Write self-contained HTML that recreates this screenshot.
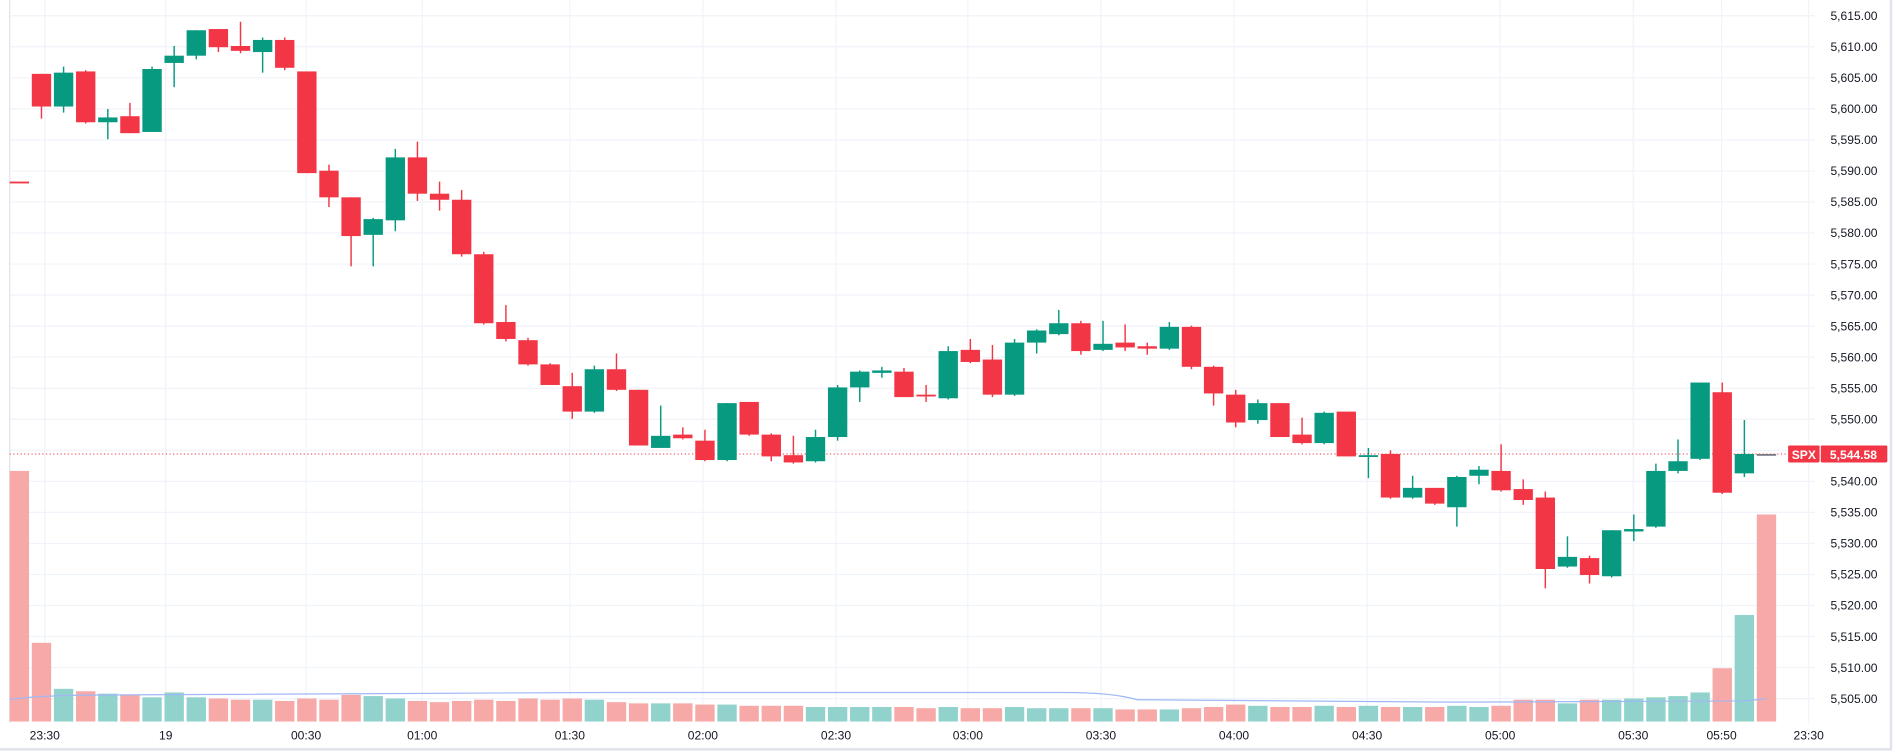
<!DOCTYPE html>
<html><head><meta charset="utf-8"><style>
html,body{margin:0;padding:0;background:#fff;}
svg{display:block;}
text{font-family:"Liberation Sans",sans-serif;font-size:10px;fill:#131722;}
</style></head><body>
<svg id="c" width="1897" height="753" viewBox="0 0 1568 622" preserveAspectRatio="none" xmlns="http://www.w3.org/2000/svg"></svg>
<script>
var C=[
[0,150,150,150,150],[0,61,88,61,98],[1,60,88,55,93],[0,59,101,58,102],[1,97,101,90,115],[0,96,110,85,110],[1,57,109,55,109],[1,46,52,38,72],[1,25,46,25,49],[0,24,39,24,43],
[0,38,42,18,44],[1,33,43,31,60],[0,33,56,31,58],[0,59,143,59,143],[0,141,163,136,171],[0,163,195,163,220],[1,181,194,180,220],[1,130,182,123,191],[0,130,160,117,166],[0,160,165,150,174],
[0,165,210,157,212],[0,210,267,208,268],[0,266,280,252,282],[0,281,301,279,302],[0,301,318,300,318],[0,319,340,308,346],[1,305,340,302,341],[0,305,322,292,323],[0,322,368,322,368],[1,360,370,335,370],
[0,359,362,353,363],[0,364,380,355,381],[1,333,380,333,381],[0,332,359,332,360],[0,359,377,358,381],[0,376,382,360,383],[1,361,381,355,382],[1,320,361,318,364],[1,307,320,306,332],[1,306,308,303,312],
[0,307,328,304,328],[0,326,327,318,332],[1,290,329,286,330],[0,289,299,280,300],[0,297,326,285,328],[1,283,326,280,327],[1,273,283,272,292],[1,267,276,256,277],[0,267,290,265,293],[1,284,289,265,290],
[0,283,287,268,290],[0,286,288,283,293],[1,270,288,266,289],[0,270,303,269,305],[0,303,325,302,335],[0,326,349,322,353],[1,333,347,330,350],[0,333,361,333,361],[0,359,366,345,367],[1,341,366,340,367],
[0,340,377,340,377],[1,376,377,370,395],[0,375,411,372,412],[1,403,411,393,412],[0,403,416,403,417],[1,394,419,393,435],[1,388,393,385,400],[0,389,405,367,406],[0,404,413,396,417],[0,411,470,406,486],
[1,460,468,443,469],[0,461,475,459,482],[1,438,476,438,477],[1,437,439,425,447],[1,389,435,383,436],[1,381,389,363,391],[1,316,379,316,380],[0,324,407,316,408],[1,375,391,347,394],[2,375,375,375,375]];
var V=[389,531,569,571,573,574,576,572,576,577,578,578,579,577,578,574,575,577,579,580,579,578,579,577,578,577,578,580,581,581,581,582,582,583,583,583,584,584,584,584,584,585,584,585,585,584,585,585,585,585,586,586,586,585,584,582,583,584,584,583,584,583,584,584,584,583,584,583,578,578,581,578,578,577,576,575,572,552,508,425];
var s='';
// grid
for(var k=0;k<=22;k++){var y=13+k*25.64;s+='<line x1="8" x2="1500" y1="'+y+'" y2="'+y+'" stroke="#f0f3fa"/>';}
var T=[[37,'23:30'],[137,'19'],[253,'00:30'],[349,'01:00'],[471,'01:30'],[581,'02:00'],[691,'02:30'],[800,'03:00'],[910,'03:30'],[1020,'04:00'],[1130,'04:30'],[1240,'05:00'],[1350,'05:30'],[1423,'05:50'],[1495,'23:30']];
T.forEach(function(t){s+='<line x1="'+t[0]+'" x2="'+t[0]+'" y1="0" y2="597" stroke="#f0f3fa"/>';s+='<text x="'+t[0]+'" y="611" text-anchor="middle">'+t[1]+'</text>';});
s+='<line x1="8" x2="8" y1="0" y2="597" stroke="#e0e3eb"/>';
s+='<line x1="0" x2="1563" y1="619" y2="619" stroke="#e0e3eb" stroke-width="2"/>';
s+='<line x1="1563" x2="1563" y1="0" y2="620" stroke="#e0e3eb" stroke-width="2"/>';
// volumes
var sp=18.28;
for(var i=0;i<80;i++){var cx=16+sp*i;var col=C[i][0]==1?'#92d2cc':'#f7a9a7';s+='<rect x="'+(cx-8)+'" y="'+V[i]+'" width="16" height="'+(596-V[i])+'" fill="'+col+'"/>';}
s+='<path d="M8 578 Q30 574 100 574 L500 572 L880 572 Q920 572 940 578 L1200 580 L1440 579 Q1455 578 1460 577" fill="none" stroke="#9fb8f5" stroke-width="1"/>';
// price line
s+='<line x1="8" x2="1478" y1="375" y2="375" stroke="#f23645" stroke-dasharray="1,2" stroke-width="0.8"/>';
// candles
for(var i=0;i<80;i++){var c=C[i],cx=16+sp*i,col=c[0]==1?'#089981':c[0]==0?'#f23645':'#787b86';
 s+='<line x1="'+cx+'" x2="'+cx+'" y1="'+c[3]+'" y2="'+c[4]+'" stroke="'+col+'" stroke-width="1.2"/>';
 var h=Math.max(c[2]-c[1],1.5);s+='<rect x="'+(cx-8)+'" y="'+c[1]+'" width="16" height="'+h+'" fill="'+col+'"/>';}
// price labels
var P=['5,615.00','5,610.00','5,605.00','5,600.00','5,595.00','5,590.00','5,585.00','5,580.00','5,575.00','5,570.00','5,565.00','5,560.00','5,555.00','5,550.00','5,545.00','5,540.00','5,535.00','5,530.00','5,525.00','5,520.00','5,515.00','5,510.00','5,505.00'];
P.forEach(function(p,k){if(k==14)return;s+='<text x="1513" y="'+(16.5+k*25.64)+'">'+p+'</text>';});
s+='<rect x="1478" y="368" width="26" height="14" rx="1" fill="#f23645"/><text x="1491" y="379" text-anchor="middle" style="fill:#fff;font-weight:bold">SPX</text>';
s+='<rect x="1505" y="368" width="55" height="14" rx="1" fill="#f23645"/><text x="1532" y="379" text-anchor="middle" style="fill:#fff;font-weight:bold">5,544.58</text>';
document.getElementById('c').innerHTML=s;
</script>
</body></html>
